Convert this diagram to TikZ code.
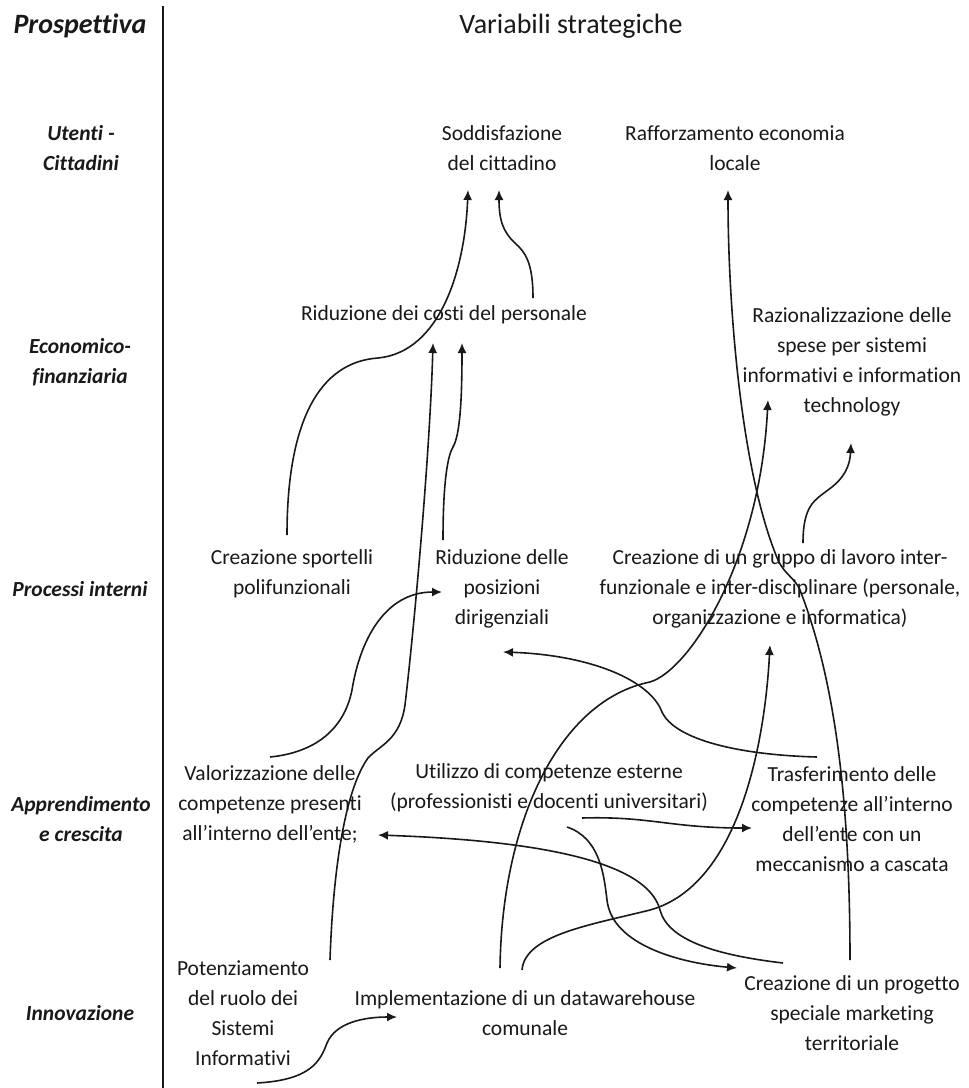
\documentclass[tikz,border=0pt]{standalone}
\usepackage{fontspec}
\setmainfont{Carlito}[Ligatures=NoCommon]
\usetikzlibrary{arrows.meta}
\newcommand\txtbody{\fontsize{21.5}{30}\selectfont}
\newcommand\txthead{\fontsize{28}{34}\selectfont}
\begin{document}
\begin{tikzpicture}[x=1pt,y=-1pt,
  every node/.style={text=black!90, inner sep=0pt},
  var/.style={font=\txtbody, align=center},
  persp/.style={font=\txtbody\bfseries\itshape, align=center},
  head/.style={font=\txthead},
  conn/.style={line width=1.6pt, draw=black!90, -{Latex[length=10pt,width=9pt]}},
  divider/.style={line width=1.6pt, draw=black!90}]
\useasboundingbox (0,0) rectangle (969,1088);
\fill[white] (0,0) rectangle (969,1088);
% header and divider
\node[head, font=\txthead\bfseries\itshape] (prosp) at (80,26) {Prospettiva};
\node[head] (varstr) at (571,26) {Variabili strategiche};
\coordinate (divtop) at (163,6);
\coordinate (divbot) at (163,1088);
\draw[divider] (divtop) -- (divbot);
% perspectives
\node[persp] (utenti) at (81,148) {Utenti -\\Cittadini};
\node[persp] (econ) at (80,362) {Economico-\\finanziaria};
\node[persp] (proc) at (80,589) {Processi interni};
\node[persp] (appr) at (81,819) {Apprendimento\\e crescita};
\node[persp] (innov) at (80,1013) {Innovazione};
% strategic variables
\node[var] (sodd) at (502,148) {Soddisfazione\\del cittadino};
\node[var] (raff) at (735,148) {Rafforzamento economia\\locale};
\node[var] (costi) at (444,315) {Riduzione dei costi del personale};
\node[var] (razion) at (852,362) {Razionalizzazione delle\\spese per sistemi\\informativi e information\\technology};
\node[var] (sport) at (292,574) {Creazione sportelli\\polifunzionali};
\node[var] (ridpos) at (502,589) {Riduzione delle\\posizioni\\dirigenziali};
\node[var] (gruppo) at (780,589) {Creazione di un gruppo di lavoro inter-\\funzionale e inter-disciplinare (personale,\\organizzazione e informatica)};
\node[var] (valor) at (270,804) {Valorizzazione delle\\competenze presenti\\all'interno dell'ente;};
\node[var] (utiliz) at (549,788) {Utilizzo di competenze esterne\\(professionisti e docenti universitari)};
\node[var] (trasf) at (852,819) {Trasferimento delle\\competenze all'interno\\dell'ente con un\\meccanismo a cascata};
\node[var] (poten) at (243,1013) {Potenziamento\\del ruolo dei\\Sistemi\\Informativi};
\node[var] (implem) at (525,1013) {Implementazione di un datawarehouse\\comunale};
\node[var] (progetto) at (852,1013) {Creazione di un progetto\\speciale marketing\\territoriale};
% connector ends
\coordinate (sport-o) at (287,535);   \coordinate (sodd-i1) at (468,190);
\coordinate (costi-o) at (533,298);   \coordinate (sodd-i2) at (499,190);
\coordinate (poten-o1) at (330,960);  \coordinate (costi-i1) at (433,343);
\coordinate (ridpos-o) at (443,540);  \coordinate (costi-i2) at (462,343);
\coordinate (valor-o) at (270,757);   \coordinate (ridpos-i1) at (442,592);
\coordinate (implem-o1) at (500,968); \coordinate (razion-i1) at (768,400);
\coordinate (progetto-o1) at (850,960); \coordinate (raff-i) at (728,190);
\coordinate (gruppo-o) at (803,543);  \coordinate (razion-i2) at (851,443);
\coordinate (implem-o2) at (522,970); \coordinate (gruppo-i) at (770,645);
\coordinate (trasf-o) at (817,757);   \coordinate (ridpos-i2) at (503,652);
\coordinate (utiliz-o1) at (582,818); \coordinate (trasf-i) at (752,828);
\coordinate (utiliz-o2) at (567,827); \coordinate (progetto-i) at (737,968);
\coordinate (progetto-o2) at (783,963); \coordinate (valor-i) at (378,835);
\coordinate (poten-o2) at (257,1083); \coordinate (implem-i) at (397,1017);
% connectors
\draw[conn] (sport-o) .. controls (287,420) and (320,362) .. (378,358)
  .. controls (440,352) and (465,270) .. (sodd-i1);
\draw[conn] (costi-o) .. controls (533,262) and (525,252) .. (515,243)
  .. controls (503,232) and (499,220) .. (sodd-i2);
\draw[conn] (poten-o1) .. controls (333,870) and (345,790) .. (368,758)
  .. controls (380,745) and (400,740) .. (405,705)
  .. controls (415,620) and (430,450) .. (costi-i1);
\draw[conn] (ridpos-o) .. controls (443,480) and (448,455) .. (453,447)
  .. controls (460,435) and (462,400) .. (costi-i2);
\draw[conn] (valor-o) .. controls (320,752) and (345,725) .. (352,690)
  .. controls (360,640) and (385,592) .. (ridpos-i1);
\draw[conn] (implem-o1) .. controls (502,820) and (560,700) .. (650,682)
  .. controls (690,670) and (760,560) .. (razion-i1);
\draw[conn] (progetto-o1) .. controls (850,800) and (835,680) .. (800,590)
  .. controls (795,578) and (785,575) .. (778,560)
  .. controls (740,470) and (728,300) .. (raff-i);
\draw[conn] (gruppo-o) .. controls (803,505) and (815,500) .. (828,490)
  .. controls (845,478) and (850,465) .. (razion-i2);
\draw[conn] (implem-o2) .. controls (525,935) and (590,925) .. (650,910)
  .. controls (740,885) and (765,740) .. (gruppo-i);
\draw[conn] (trasf-o) .. controls (740,755) and (675,740) .. (662,712)
  .. controls (650,680) and (590,655) .. (ridpos-i2);
\draw[conn] (utiliz-o1) .. controls (650,816) and (670,828) .. (trasf-i);
\draw[conn] (utiliz-o2) .. controls (600,838) and (604,875) .. (607,900)
  .. controls (612,945) and (680,963) .. (progetto-i);
\draw[conn] (progetto-o2) .. controls (715,955) and (668,940) .. (660,910)
  .. controls (650,872) and (580,842) .. (valor-i);
\draw[conn] (poten-o2) .. controls (310,1080) and (320,1062) .. (327,1043)
  .. controls (336,1022) and (365,1017) .. (implem-i);
\end{tikzpicture}
\end{document}
